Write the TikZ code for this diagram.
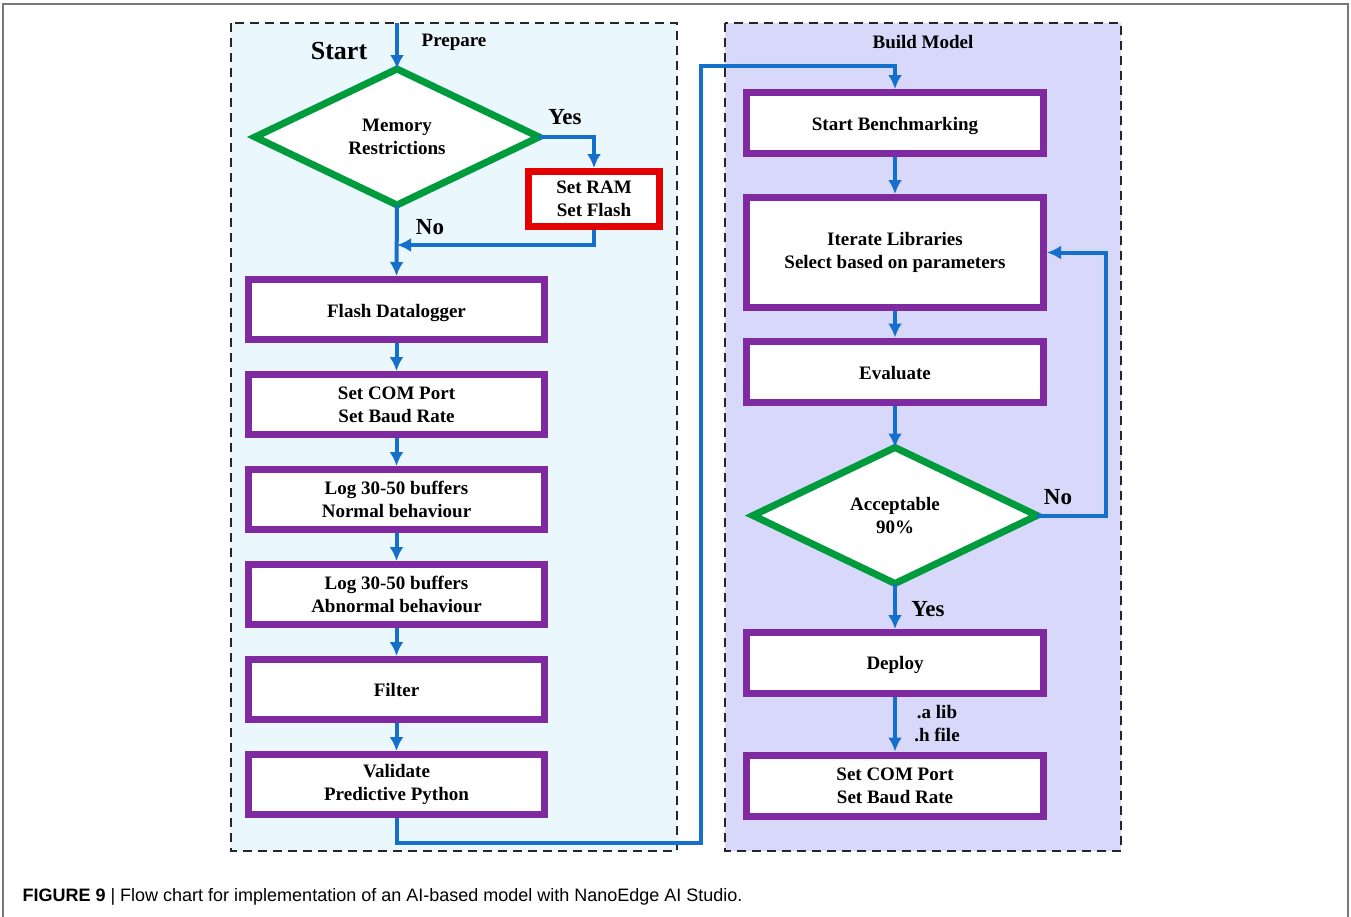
\documentclass[tikz,border=0pt]{standalone}
\usepackage{fontspec}
\setmainfont{Liberation Serif}
\newfontfamily\capfont{Liberation Sans}
\usetikzlibrary{arrows.meta,shapes.geometric}
\definecolor{boxpurple}{RGB}{127,42,160}
\definecolor{dgreen}{RGB}{0,155,60}
\definecolor{bred}{RGB}{226,0,0}
\definecolor{flowblue}{RGB}{21,112,204}
\definecolor{panelcyan}{RGB}{234,247,252}
\definecolor{panellav}{RGB}{216,216,250}
\definecolor{framegray}{RGB}{120,120,120}
\newcommand{\lowr}[2]{\raisebox{-#1}[\height][\depth]{#2}}
\begin{document}
\begin{tikzpicture}[x=1pt,y=-1pt,
  txt/.style={font=\bfseries\fontsize{19}{23}\selectfont, align=center},
  bigtxt/.style={font=\bfseries\fontsize{23}{26}\selectfont},
  pbox/.style={txt, draw=boxpurple, line width=7pt, fill=white, minimum width=296pt, minimum height=60pt, inner sep=0pt},
  rbox/.style={pbox, minimum width=297pt, minimum height=61pt},
  redbox/.style={txt, draw=bred, line width=7pt, fill=white, minimum width=131pt, minimum height=55pt, inner sep=0pt},
  dec/.style={txt, diamond, draw=dgreen, line width=7pt, fill=white, minimum width=284pt, minimum height=136pt, inner sep=0pt, outer sep=0pt},
  panel/.style={draw=black!85, line width=1.3pt, dash pattern=on 9pt off 6pt},
  arr/.style={draw=flowblue, line width=4pt, -{Latex[length=14pt,width=14pt]}},
  link/.style={draw=flowblue, line width=4pt}
]
\useasboundingbox (0,0) rectangle (1351,916);
% outer frame
\draw[framegray, line width=1.5pt] (3,918) -- (3,4) -- (1348,4) -- (1348,918);
% panels
\draw[panel, fill=panelcyan] (231,23) rectangle (677,851);
\draw[panel, fill=panellav] (725,23) rectangle (1121,851);
\node[font=\bfseries\fontsize{26}{28}\selectfont] (start) at (339,51) {Start};
\node[txt] (prep) at (454,42) {Prepare};
\node[txt] (build) at (923,42) {Build Model};
% left column
\coordinate (top) at (397,23);
\node[dec] (d1) at (397,137) {Memory\\Restrictions};
\node[redbox] (ram) at (594,199) {Set RAM\\Set Flash};
\node[pbox] (fd) at (396.5,309.5) {\lowr{3.5pt}{Flash Datalogger}};
\node[pbox] (com1) at (396.5,404.5) {Set COM Port\\Set Baud Rate};
\node[pbox] (log1) at (396.5,499.5) {Log 30-50 buffers\\Normal behaviour};
\node[pbox] (log2) at (396.5,594.5) {Log 30-50 buffers\\Abnormal behaviour};
\node[pbox] (filt) at (396.5,689.5) {Filter};
\node[pbox] (val) at (396.5,784.5) {Validate\\Predictive Python};
\node[bigtxt] (yes1) at (565,117) {Yes};
\node[bigtxt] (no1) at (430,227) {No};
% right column
\node[rbox] (sb) at (895,123) {\lowr{3pt}{Start Benchmarking}};
\node[rbox, minimum height=110pt] (it) at (895,252.5) {Iterate Libraries\\Select based on parameters};
\node[rbox] (ev) at (895,371.5) {\lowr{1.5pt}{Evaluate}};
\node[dec] (d2) at (895,515.5) {Acceptable\\90\%};
\node[rbox] (dep) at (895,663) {\lowr{2pt}{Deploy}};
\node[rbox] (com2) at (895,785.5) {Set COM Port\\Set Baud Rate};
\node[bigtxt] (no2) at (1058,497) {No};
\node[bigtxt] (yes2) at (928,609) {Yes};
\node[txt] (files) at (937,724) {.a lib\\.h file};
% connectors left
\draw[arr] (top) -- (d1.north);
\draw[arr] (d1.east) -| (ram.north);
\coordinate (j1) at (397,245);
\draw[arr] (ram.south) |- (j1);
\draw[arr] (d1.south) -- (fd.north);
\draw[arr] (fd.south) -- (com1.north);
\draw[arr] (com1.south) -- (log1.north);
\draw[arr] (log1.south) -- (log2.north);
\draw[arr] (log2.south) -- (filt.north);
\draw[arr] (filt.south) -- (val.north);
% crossing connector
\coordinate (r1) at (701,843);
\coordinate (r2) at (701,66);
\draw[arr] (val.south) |- (r1) -- (r2) -| (sb.north);
% connectors right
\draw[arr] (sb.south) -- (it.north);
\draw[arr] (it.south) -- (ev.north);
\draw[arr] (ev.south) -- (d2.north);
\coordinate (n1) at (1106,515.5);
\draw[arr] (d2.east) -- (n1) |- (it.east);
\draw[arr] (d2.south) -- (dep.north);
\draw[arr] (dep.south) -- (com2.north);
% caption
\node[anchor=west, font=\capfont\fontsize{18}{20}\selectfont] (cap) at (19,897) {\textbf{FIGURE 9} | Flow chart for implementation of an AI-based model with NanoEdge AI Studio.};
\end{tikzpicture}
\end{document}
